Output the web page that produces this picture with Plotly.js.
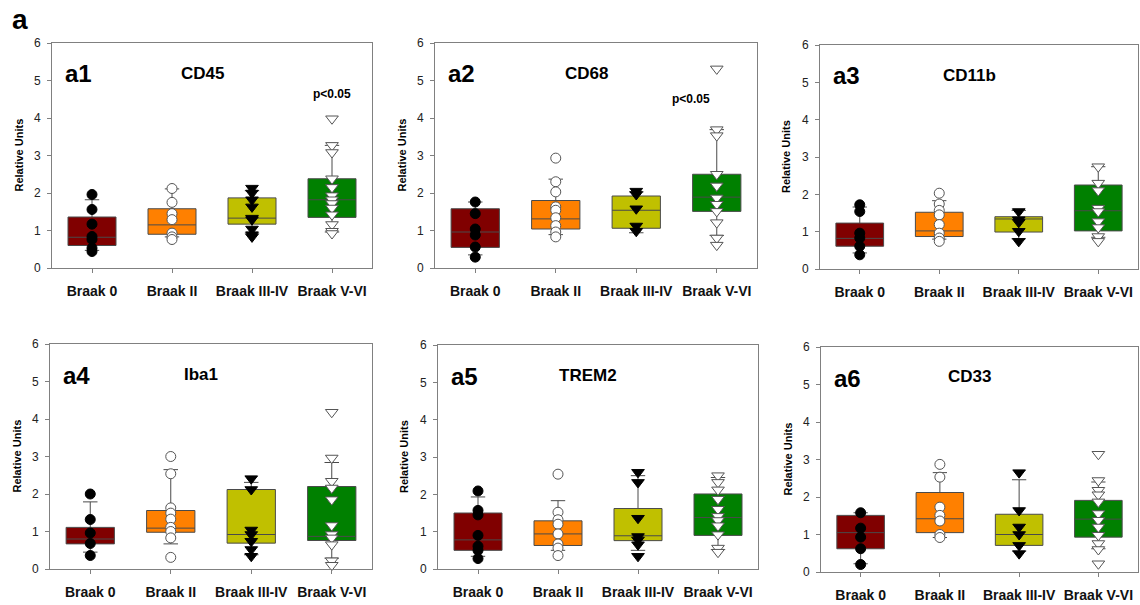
<!DOCTYPE html>
<html>
<head>
<meta charset="utf-8">
<script src="https://cdn.plot.ly/plotly-3.0.1.min.js"></script>
<style>html,body{margin:0;padding:0;background:#fff;}#chart{width:1140px;height:605px;}</style>
</head>
<body>
<div id="chart"></div>
<script>
// ---------- DATA ----------
const categories = ["Braak 0", "Braak II", "Braak III-IV", "Braak V-VI"];
const panelLabels = ["a1", "a2", "a3", "a4", "a5", "a6"];
const markerNames = ["CD45", "CD68", "CD11b", "Iba1", "TREM2", "CD33"];
const pValues = ["p<0.05", "p<0.05", "", "", "", ""];

// box statistics per panel (one value per category)
const q1 = [
  [0.60, 0.90, 1.17, 1.35],
  [0.55, 1.04, 1.06, 1.51],
  [0.61, 0.87, 0.99, 1.02],
  [0.67, 0.98, 0.69, 0.76],
  [0.50, 0.63, 0.76, 0.90],
  [0.62, 1.05, 0.71, 0.93]
];
const median = [
  [0.82, 1.15, 1.33, 1.82],
  [0.96, 1.31, 1.54, 1.89],
  [0.82, 1.02, 1.34, 1.56],
  [0.80, 1.09, 0.92, 0.87],
  [0.78, 0.94, 0.89, 1.38],
  [1.05, 1.42, 1.00, 1.41]
];
const q3 = [
  [1.36, 1.58, 1.87, 2.38],
  [1.58, 1.80, 1.92, 2.50],
  [1.23, 1.52, 1.40, 2.25],
  [1.11, 1.56, 2.12, 2.20],
  [1.50, 1.29, 1.62, 2.01],
  [1.51, 2.12, 1.54, 1.91]
];
const lowerWhisker = [
  [0.47, 0.83, 0.93, 0.96],
  [0.35, 0.89, 0.94, 0.87],
  [0.43, 0.80, 0.81, 0.85],
  [0.45, 0.67, 0.38, 0.29],
  [0.34, 0.50, 0.50, 0.52],
  [0.22, 0.92, 0.56, 0.62]
];
const upperWhisker = [
  [1.82, 2.11, 2.06, 3.27],
  [1.76, 2.37, 2.03, 3.69],
  [1.66, 1.83, 1.57, 2.74],
  [1.79, 2.65, 2.31, 2.84],
  [1.93, 1.83, 2.50, 2.45],
  [1.58, 2.65, 2.46, 2.40]
];

// individual samples per panel, per category
const pointsA1 = [
  [1.96, 1.56, 1.17, 0.84, 0.76, 0.53, 0.44],
  [2.12, 1.75, 1.45, 1.29, 0.93, 0.83, 0.76],
  [2.13, 2.00, 1.82, 1.63, 1.33, 1.29, 1.04, 0.89, 0.83],
  [3.98, 3.27, 3.08, 2.38, 2.15, 1.93, 1.82, 1.72, 1.60, 1.42, 1.16, 0.98, 0.92]
];
const pointsA2 = [
  [1.76, 1.45, 1.04, 0.88, 0.56, 0.29],
  [2.93, 2.30, 2.03, 1.63, 1.54, 1.34, 1.13, 0.96, 0.83],
  [2.05, 1.96, 1.58, 1.12, 0.98],
  [5.31, 3.69, 3.53, 2.50, 2.19, 1.87, 1.70, 1.51, 1.21, 0.80, 0.61]
];
const pointsA3 = [
  [1.72, 1.54, 0.96, 0.83, 0.61, 0.38],
  [2.03, 1.74, 1.57, 1.45, 1.19, 0.96, 0.83, 0.74],
  [1.54, 1.32, 1.25, 1.01, 0.74],
  [2.74, 2.30, 2.10, 1.63, 1.54, 1.27, 1.11, 0.87, 0.74]
];
const pointsA4 = [
  [2.00, 1.32, 0.96, 0.68, 0.36],
  [3.00, 2.54, 1.63, 1.49, 1.33, 1.11, 1.00, 0.83, 0.31],
  [2.41, 2.12, 1.04, 0.92, 0.74, 0.52, 0.34],
  [4.18, 2.96, 2.34, 2.16, 1.85, 1.16, 0.92, 0.83, 0.65, 0.22, 0.10]
];
const pointsA5 = [
  [2.09, 1.57, 1.45, 0.90, 0.61, 0.50, 0.28],
  [2.54, 1.52, 1.32, 1.20, 0.94, 0.67, 0.56, 0.36],
  [2.59, 2.32, 1.36, 0.87, 0.78, 0.65, 0.34],
  [2.50, 2.32, 2.12, 1.87, 1.60, 1.41, 1.30, 1.16, 0.92, 0.56, 0.45]
];
const pointsA6 = [
  [1.58, 1.17, 0.93, 0.62, 0.20],
  [2.87, 2.53, 1.73, 1.51, 1.36, 1.00, 0.92],
  [2.65, 1.64, 1.20, 1.00, 0.71, 0.49],
  [3.14, 2.44, 2.18, 2.06, 1.87, 1.56, 1.38, 1.20, 0.98, 0.76, 0.60, 0.22]
];
const allPoints = [pointsA1, pointsA2, pointsA3, pointsA4, pointsA5, pointsA6];

// ---------- STYLE ----------
const boxColors = ["#800000", "#ff8000", "#c0c000", "#008000"];
const markerStyles = [
  {symbol: "circle", size: 10, color: "#000000", line: {color: "#000000", width: 1}},
  {symbol: "circle", size: 10, color: "#ffffff", line: {color: "#555555", width: 1}},
  {symbol: "triangle-down", size: 11, color: "#000000", line: {color: "#000000", width: 1}},
  {symbol: "triangle-down", size: 11, color: "#ffffff", line: {color: "#555555", width: 1}}
];
const W = 1140, H = 605;
// panel pixel boxes [left, right, top, bottom]
const panelBoxes = [
  [52, 372, 43, 268],
  [435, 757, 43, 268],
  [820, 1138, 45, 269],
  [50, 372, 344, 569],
  [438, 758, 345, 569],
  [821, 1138, 347, 572]
];
const FONT = "Liberation Sans, Arial, sans-serif";

const traces = [];
const layout = {
  width: W, height: H,
  margin: {l: 0, r: 0, t: 0, b: 0},
  paper_bgcolor: "#ffffff", plot_bgcolor: "#ffffff",
  showlegend: false,
  font: {family: FONT, color: "#222222"},
  annotations: [],
  shapes: []
};

panelBoxes.forEach((b, p) => {
  const idx = p + 1;
  const xa = "x" + (idx === 1 ? "" : idx);
  const ya = "y" + (idx === 1 ? "" : idx);
  const xName = "xaxis" + (idx === 1 ? "" : idx);
  const yName = "yaxis" + (idx === 1 ? "" : idx);
  layout[xName] = {
    domain: [b[0] / W, b[1] / W],
    anchor: ya,
    range: [-0.5, 3.5],
    tickvals: [0, 1, 2, 3],
    ticktext: categories,
    ticks: "outside", ticklen: 4, tickcolor: "#808080",
    ticklabelstandoff: 6,
    showline: true, linecolor: "#808080", linewidth: 1, mirror: true,
    showgrid: false, zeroline: false, fixedrange: true,
    tickfont: {family: FONT, size: 14, color: "#111111", weight: "bold"}
  };
  layout[yName] = {
    domain: [1 - b[3] / H, 1 - b[2] / H],
    anchor: xa,
    range: [0, 6],
    tickvals: [0, 1, 2, 3, 4, 5, 6],
    ticks: "outside", ticklen: 4, tickcolor: "#808080",
    ticklabelstandoff: 4,
    showline: true, linecolor: "#808080", linewidth: 1, mirror: true,
    showgrid: false, zeroline: false, fixedrange: true,
    tickfont: {family: FONT, size: 12, color: "#222222"}
  };

  // boxes
  categories.forEach((c, k) => {
    traces.push({
      type: "box",
      x: [k],
      q1: [q1[p][k]], median: [median[p][k]], q3: [q3[p][k]],
      lowerfence: [lowerWhisker[p][k]], upperfence: [upperWhisker[p][k]],
      width: 0.6,
      whiskerwidth: 0.3,
      fillcolor: boxColors[k],
      line: {color: "#4a4a4a", width: 1},
      boxpoints: false,
      hoverinfo: "skip",
      xaxis: xa, yaxis: ya
    });
  });
  // points
  allPoints[p].forEach((vals, k) => {
    traces.push({
      type: "scatter", mode: "markers",
      x: vals.map(() => k), y: vals,
      marker: markerStyles[k],
      cliponaxis: false,
      hoverinfo: "y",
      xaxis: xa, yaxis: ya
    });
  });

  // panel label
  layout.annotations.push({
    xref: "paper", yref: "paper",
    x: (b[0] + 11) / W, y: 1 - (b[2] + 31) / H,
    xanchor: "left", yanchor: "middle",
    text: panelLabels[p], showarrow: false,
    font: {family: FONT, size: 24, color: "#000000", weight: "bold"}
  });
  // marker name
  layout.annotations.push({
    xref: xa + " domain", yref: "paper",
    x: 0.47, y: 1 - (b[2] + 30) / H,
    xanchor: "center", yanchor: "middle",
    text: markerNames[p], showarrow: false,
    font: {family: FONT, size: 17, color: "#000000", weight: "bold"}
  });
  // y title
  layout.annotations.push({
    xref: "paper", yref: "paper",
    x: (b[0] - 34) / W, y: 1 - ((b[2] + b[3]) / 2) / H,
    xanchor: "center", yanchor: "middle",
    textangle: -90,
    text: "Relative Units", showarrow: false,
    font: {family: FONT, size: 11, color: "#000000", weight: "bold"}
  });
});

// p-value labels
layout.annotations.push({
  xref: "x", yref: "y", x: 3, y: 4.63, xanchor: "center", yanchor: "middle",
  text: pValues[0], showarrow: false,
  font: {family: FONT, size: 12, color: "#000000", weight: "bold"}
});
layout.annotations.push({
  xref: "x2", yref: "y2", x: 2.68, y: 4.5, xanchor: "center", yanchor: "middle",
  text: pValues[1], showarrow: false,
  font: {family: FONT, size: 12, color: "#000000", weight: "bold"}
});
// figure label
layout.annotations.push({
  xref: "paper", yref: "paper", x: 10 / W, y: 1 - 19 / H,
  xanchor: "left", yanchor: "middle",
  text: "a", showarrow: false,
  font: {family: FONT, size: 28, color: "#000000", weight: "bold"}
});

Plotly.newPlot("chart", traces, layout, {displayModeBar: false, staticPlot: true});
</script>
</body>
</html>
